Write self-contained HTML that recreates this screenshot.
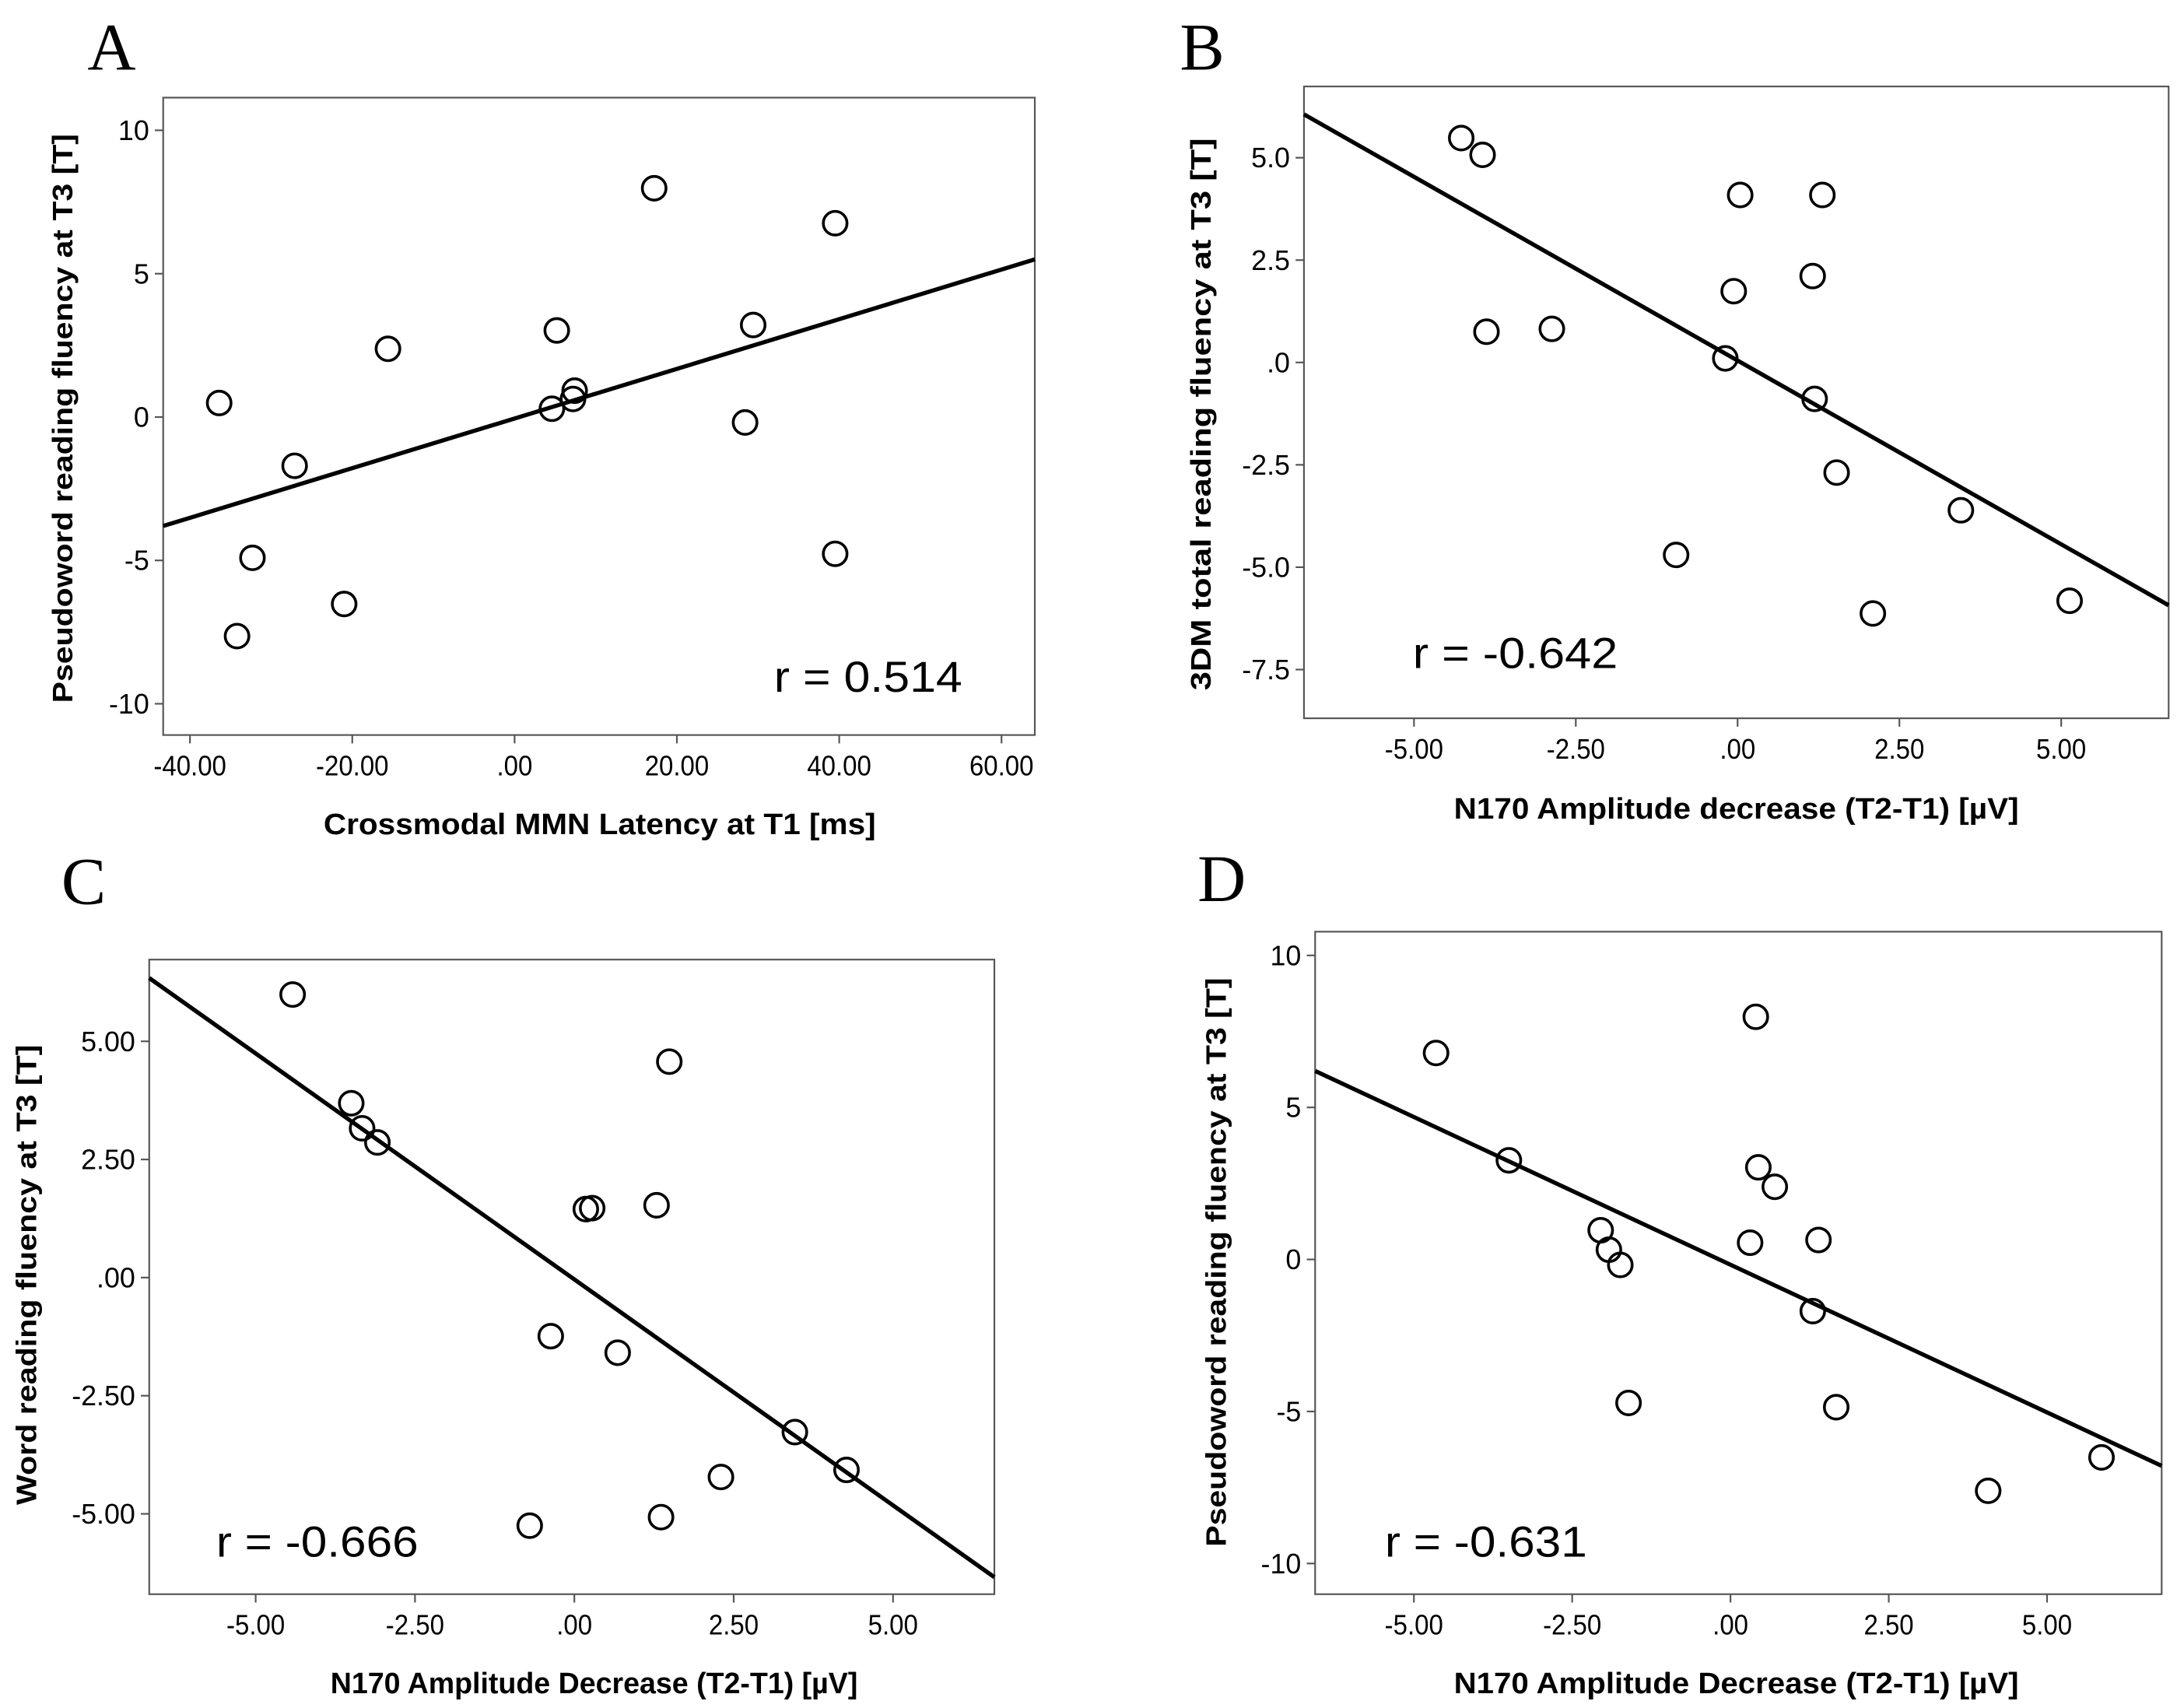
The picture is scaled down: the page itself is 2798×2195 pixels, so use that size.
<!DOCTYPE html>
<html><head><meta charset="utf-8"><style>
html,body{margin:0;padding:0;background:#fff;}
svg{display:block;}
text{font-family:"Liberation Sans",Arial,sans-serif;fill:#000;}
</style></head><body>
<svg id="fig" width="2798" height="2195" viewBox="0 0 1561 1224.6" preserveAspectRatio="none" xmlns="http://www.w3.org/2000/svg">
<rect x="0" y="0" width="1561" height="1225" fill="#fff"/>
</svg>
<script>
// Panel A data
const aX = [-36.4,-34.2,-32.3,-27.1,-21.0,-15.6,5.2,4.6,7.2,7.4,17.2,28.4,29.4,39.5,39.5];
const aY = [0.49,-7.64,-4.91,-1.70,-6.52,2.38,3.02,0.29,0.63,0.92,7.98,-0.19,3.21,6.76,-4.77];
const aFit = [[-43.3,-3.80],[64.1,5.5]];
const aXTicks = [-40,-20,0,20,40,60];
const aXTickLabels = ["-40.00","-20.00",".00","20.00","40.00","60.00"];
const aYTicks = [10,5,0,-5,-10];
const aYTickLabels = ["10","5","0","-5","-10"];
// Panel B data
const bX = [-4.27,-3.94,-3.88,-2.87,-0.95,-0.19,-0.06,0.04,1.16,1.19,1.31,1.53,2.09,3.45,5.13];
const bY = [5.48,5.07,0.75,0.82,-4.70,0.10,1.74,4.09,2.11,-0.89,4.09,-2.69,-6.13,-3.61,-5.82];
const bFit = [[-6.70,6.06],[6.66,-5.93]];
const bXTicks = [-5,-2.5,0,2.5,5];
const bXTickLabels = ["-5.00","-2.50",".00","2.50","5.00"];
const bYTicks = [5,2.5,0,-2.5,-5,-7.5];
const bYTickLabels = ["5.0","2.5",".0","-2.5","-5.0","-7.5"];
// Panel C data
const cX = [-4.42,-3.50,-3.33,-3.09,-0.37,-0.70,0.18,0.28,0.68,1.29,1.36,1.49,2.30,3.46,4.27];
const cY = [5.99,3.69,3.16,2.86,-1.24,-5.25,1.45,1.47,-1.59,1.53,-5.07,4.57,-4.22,-3.27,-4.07];
const cFit = [[-6.67,6.34],[6.59,-6.34]];
const cXTicks = [-5,-2.5,0,2.5,5];
const cXTickLabels = ["-5.00","-2.50",".00","2.50","5.00"];
const cYTicks = [5,2.5,0,-2.5,-5];
const cYTickLabels = ["5.00","2.50",".00","-2.50","-5.00"];
// Panel D data
const dX = [-4.65,-3.50,-2.05,-1.92,-1.74,-1.61,0.31,0.40,0.44,0.70,1.30,1.39,1.67,4.07,5.86];
const dY = [6.79,3.26,0.96,0.32,-0.18,-4.72,0.55,7.98,3.03,2.39,-1.70,0.64,-4.86,-7.61,-6.51];
const dFit = [[-6.56,6.2],[6.81,-6.79]];
const dXTicks = [-5,-2.5,0,2.5,5];
const dXTickLabels = ["-5.00","-2.50",".00","2.50","5.00"];
const dYTicks = [10,5,0,-5,-10];
const dYTickLabels = ["10","5","0","-5","-10"];

const NS = "http://www.w3.org/2000/svg";
const svg = document.getElementById('fig');
function mk(tag, attrs, parent){
  const e = document.createElementNS(NS, tag);
  for (const k in attrs) e.setAttribute(k, attrs[k]);
  (parent||svg).appendChild(e); return e;
}
function panel(p){
  const g = mk('g', {});
  
  
  const sx = v => p.L + (v - p.x0) / (p.x1 - p.x0) * (p.R - p.L);
  const sy = v => p.T + (p.y1 - v) / (p.y1 - p.y0) * (p.B - p.T);
  const fr = mk('rect', {x:p.L, y:p.T, width:p.R-p.L, height:p.B-p.T, fill:'none', stroke:'#555', 'stroke-width':1.2}, g);
  
  
  p.xt.forEach((t,i)=>{
    const x = sx(t);
    mk('line', {x1:x, x2:x, y1:p.B, y2:p.B+6, stroke:'#555', 'stroke-width':1.2}, g);
    const tx = mk('text', {x:x, y:p.B+29, 'text-anchor':'middle', 'font-size':20, transform:`translate(${x},0) scale(0.92,1) translate(${-x},0)`}, g);
    tx.textContent = p.xl[i];
    
    
  });
  p.yt.forEach((t,i)=>{
    const y = sy(t);
    mk('line', {x1:p.L-6, x2:p.L, y1:y, y2:y, stroke:'#555', 'stroke-width':1.2}, g);
    const tx = mk('text', {x:p.L-10, y:y+7, 'text-anchor':'end', 'font-size':20}, g);
    tx.textContent = p.yl[i];
    
    
  });
  const ln = mk('line', {x1:sx(p.fit[0][0]), y1:sy(p.fit[0][1]), x2:sx(p.fit[1][0]), y2:sy(p.fit[1][1]), stroke:'#000', 'stroke-width':3}, g);
  
  
  p.xs.forEach((v,i)=>{
    const c = mk('circle', {cx:sx(v), cy:sy(p.ys[i]), r:8.5, fill:'none', stroke:'#000', 'stroke-width':2}, g);
    
    
  });
  const xt = mk('text', {x:p.xtx - p.xtw/2, y:p.xty, 'font-size':21, 'font-weight':'bold', textLength:p.xtw, lengthAdjust:'spacingAndGlyphs'}, g);
  xt.textContent = p.xtitle;
  
  
  const yt = mk('text', {x:-p.ytw/2, y:0, 'font-size':20, 'font-weight':'bold', textLength:p.ytw, lengthAdjust:'spacingAndGlyphs', transform:`translate(${p.ytx},${p.yty}) rotate(-90)`}, g);
  yt.textContent = p.ytitle;
  
  
  const rt = mk('text', {x:p.rx, y:p.ry, 'font-size':31, textLength:p.rw, lengthAdjust:'spacingAndGlyphs'}, g);
  rt.textContent = p.r;
  
  
  const lt = mk('text', {x:p.lx, y:p.ly, 'text-anchor':'middle', 'font-size':48, style:'font-family:"Liberation Serif",serif'}, g);
  lt.textContent = p.id;
  
  
}
panel({id:'A', L:117,R:742,T:70,B:527, x0:-43.3,x1:64.1,y0:-11.09,y1:11.14,
  xs:aX, ys:aY, fit:aFit, xt:aXTicks, xl:aXTickLabels, yt:aYTicks, yl:aYTickLabels,
  xtitle:'Crossmodal MMN Latency at T1 [ms]', xtx:430, xty:598, xtw:396,
  ytitle:'Pseudoword reading fluency at T3 [T]', ytx:52, yty:300, ytw:408,
  r:'r = 0.514', rx:555, ry:496, rw:135, lx:80, ly:50});
panel({id:'B', L:935,R:1555,T:62,B:515, x0:-6.70,x1:6.66,y0:-8.69,y1:6.74,
  xs:bX, ys:bY, fit:bFit, xt:bXTicks, xl:bXTickLabels, yt:bYTicks, yl:bYTickLabels,
  xtitle:'N170 Amplitude decrease (T2-T1) [µV]', xtx:1245, xty:587, xtw:405,
  ytitle:'3DM total reading fluency at T3 [T]', ytx:868, yty:297, ytw:396,
  r:'r = -0.642', rx:1013, ry:479, rw:147, lx:862, ly:50});
panel({id:'C', L:107,R:713,T:688,B:1143, x0:-6.67,x1:6.59,y0:-6.70,y1:6.73,
  xs:cX, ys:cY, fit:cFit, xt:cXTicks, xl:cXTickLabels, yt:cYTicks, yl:cYTickLabels,
  xtitle:'N170 Amplitude Decrease (T2-T1) [µV]', xtx:426, xty:1214, xtw:378,
  ytitle:'Word reading fluency at T3 [T]', ytx:26, yty:914, ytw:330,
  r:'r = -0.666', rx:155, ry:1116, rw:145, lx:60, ly:648});
panel({id:'D', L:943,R:1550,T:668,B:1143, x0:-6.56,x1:6.81,y0:-11.01,y1:10.78,
  xs:dX, ys:dY, fit:dFit, xt:dXTicks, xl:dXTickLabels, yt:dYTicks, yl:dYTickLabels,
  xtitle:'N170 Amplitude Decrease (T2-T1) [µV]', xtx:1245, xty:1214, xtw:405,
  ytitle:'Pseudoword reading fluency at T3 [T]', ytx:879, yty:905, ytw:408,
  r:'r = -0.631', rx:993, ry:1116, rw:145, lx:876, ly:646});
</script>
</body></html>
